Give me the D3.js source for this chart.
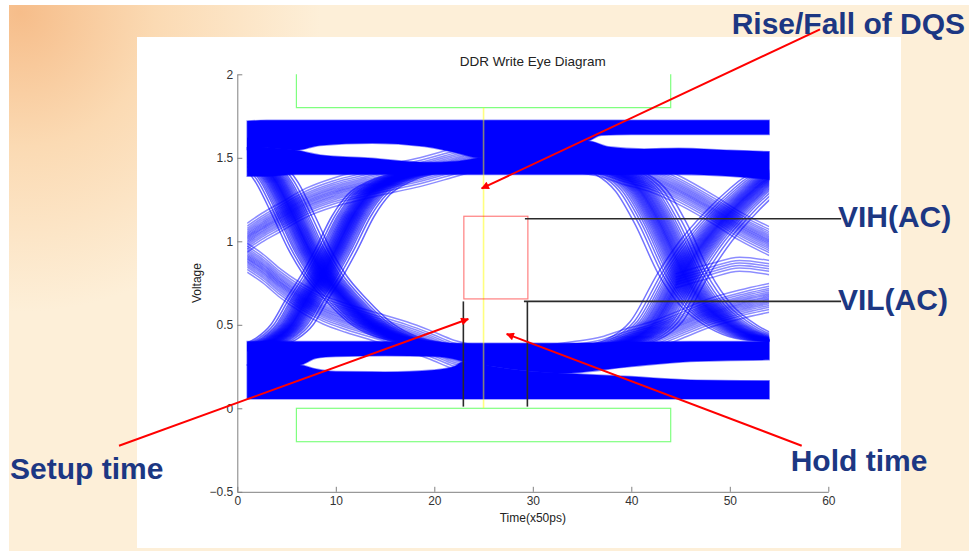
<!DOCTYPE html>
<html>
<head>
<meta charset="utf-8">
<script src="https://d3js.org/d3.v7.min.js"></script>
<style>
  body { margin: 0; background: #fff; }
  svg { display: block; font-family: Arial, "Liberation Sans", Helvetica, sans-serif; }
  .axis path, .axis line { stroke: #808080; }
  .axis text { fill: #333; font-size: 12px; font-family: Arial, "Liberation Sans", sans-serif; }
  .callout { fill: #1c3783; font-size: 30px; font-weight: bold; }
  .trace { fill: none; stroke: #0000ff; }
</style>
</head>
<body>
<svg id="chart" width="969" height="551"></svg>
<script>
// axis ticks
var xTicks = [0, 10, 20, 30, 40, 50, 60];
var yTicks = [-0.5, 0, 0.5, 1, 1.5, 2];

// solid bands where the traces pile up: [time, low, high]
var bandHighOuter = [[1, 1.55, 1.72], [3, 1.56, 1.725], [6, 1.545, 1.725], [8.4, 1.573, 1.725], [13.7, 1.587, 1.725],
  [19, 1.567, 1.725], [22.4, 1.527, 1.725], [24.5, 1.50, 1.725], [27, 1.50, 1.725], [30, 1.55, 1.725],
  [35.6, 1.60, 1.725], [37, 1.635, 1.725], [40, 1.64, 1.725], [54, 1.64, 1.725]];
var bandHighInner = [[1, 1.39, 1.56], [3, 1.39, 1.56], [6, 1.40, 1.545], [8.4, 1.40, 1.517], [13.7, 1.40, 1.497],
  [19, 1.40, 1.473], [22.4, 1.40, 1.48], [24.5, 1.40, 1.50], [27, 1.40, 1.52], [30, 1.40, 1.57],
  [35.6, 1.40, 1.60], [37.7, 1.40, 1.566], [41.3, 1.40, 1.553], [44.8, 1.40, 1.557], [50, 1.39, 1.545], [54, 1.37, 1.537]];
var bandLowInner = [[1, 0.26, 0.40], [6.3, 0.26, 0.40], [8, 0.30, 0.40], [10, 0.31, 0.40], [15, 0.315, 0.40],
  [20, 0.31, 0.395], [22, 0.295, 0.39], [23, 0.28, 0.39], [26, 0.25, 0.39], [30, 0.22, 0.39],
  [33, 0.21, 0.39], [40, 0.25, 0.395], [46, 0.28, 0.40], [54, 0.29, 0.40]];
var bandLowOuter = [[1, 0.055, 0.26], [6.3, 0.055, 0.26], [8, 0.055, 0.235], [10, 0.055, 0.22], [15, 0.055, 0.218],
  [20, 0.055, 0.23], [22, 0.055, 0.25], [23, 0.055, 0.28], [26, 0.055, 0.25], [30, 0.055, 0.22],
  [33, 0.055, 0.21], [40, 0.055, 0.19], [46, 0.055, 0.17], [54, 0.055, 0.165]];

// transition bundles, centre line [time, voltage]
var leftFall = [[0.5, 1.62], [1.5, 1.55], [2.5, 1.47], [4, 1.35], [5.7, 1.15], [7.3, 0.95], [8.7, 0.81],
  [11, 0.65], [13.5, 0.51], [16, 0.43], [19, 0.39], [22, 0.37], [26, 0.36]];
var leftRise = [[-2, 0.34], [1, 0.36], [2.5, 0.38], [4, 0.42], [5.5, 0.5], [7, 0.65], [8.7, 0.81], [10, 0.95],
  [11.7, 1.15], [13.3, 1.28], [15.5, 1.36], [19, 1.42], [22, 1.44], [26, 1.45]];
var leftSlowRise = [[1, 1.02], [2.5, 1.08], [4.3, 1.14], [7, 1.23], [9.7, 1.29], [13, 1.34], [16, 1.38],
  [19, 1.42], [22, 1.47], [25, 1.52]];
var leftSlowFall = [[1, 0.9], [2.5, 0.84], [4.3, 0.75], [6.5, 0.66], [8.7, 0.59], [11, 0.54], [13.8, 0.49],
  [17.2, 0.43], [19.5, 0.38], [22, 0.32], [25, 0.28]];
var rightFall = [[33, 1.47], [37, 1.44], [39, 1.40], [41, 1.30], [43, 1.10], [45.3, 0.81], [47.5, 0.62],
  [50, 0.50], [52.5, 0.43], [54, 0.41], [57, 0.40]];
var rightRise = [[33, 0.35], [37, 0.37], [40, 0.41], [42.5, 0.52], [45.3, 0.81], [47.5, 1.0], [50, 1.17],
  [52.5, 1.31], [54, 1.38], [57, 1.43]];
var rightSlowFall = [[30, 1.52], [34, 1.50], [37, 1.47], [39, 1.43], [42, 1.38], [45, 1.30], [48.3, 1.19], [51, 1.09], [54, 1.0]];
var rightSlowRise = [[30, 0.28], [34, 0.31], [37, 0.34], [39, 0.38], [42, 0.43], [45, 0.50], [48, 0.57], [51, 0.62], [54, 0.66]];
var rightMid = [[44.5, 0.76], [48, 0.82], [51, 0.86], [54, 0.84]];

// jitter of the individual traces inside a bundle
var spreadCore = [-2.1, -1.8, -1.55, -1.38, -1.22, -1.08, -0.97, -0.86, -0.77, -0.68, -0.6, -0.52, -0.45, -0.38, -0.31,
  -0.25, -0.19, -0.13, -0.07, -0.02, 0.03, 0.08, 0.14, 0.2, 0.26, 0.32, 0.39, 0.46, 0.53, 0.61, 0.69, 0.78, 0.87,
  0.98, 1.1, 1.24, 1.4, 1.58, 1.85, 2.2];
var spreadWide = [-2.6, -2.2, -1.9, -1.65, -1.45, -1.28, -1.13, -1.0, -0.88, -0.77, -0.67, -0.57, -0.48, -0.39, -0.3,
  -0.22, -0.14, -0.07, 0, 0.07, 0.15, 0.23, 0.31, 0.4, 0.49, 0.58, 0.68, 0.79, 0.9, 1.02, 1.15, 1.3, 1.47, 1.68,
  1.95, 2.3, 2.7];
var spreadThin = [-0.085, -0.068, -0.055, -0.044, -0.034, -0.025, -0.017, -0.009, -0.002, 0.005, 0.012, 0.02,
  0.028, 0.037, 0.047, 0.058, 0.071, 0.088];
var spreadFew = [-0.04, -0.02, -0.005, 0.01, 0.025, 0.045];

// guides and timing markers (data units)
var windowTime = [6, 44];
var windowHigh = [1.8, 2];
var windowLow = [-0.2, 0];
var dqsTime = 25;
var setupTime = 23;
var holdTime = 29.5;
var vih = 1.15, vil = 0.655;
var vihLine = 1.135, vilLine = 0.64;
var leaderEnd = 61.3;

var arrows = [
  { from: [59.16, 2.269], to: [24.81, 1.317] },
  { from: [-12.01, -0.224], to: [23.45, 0.535] },
  { from: [57.3, -0.224], to: [27.35, 0.445] }
];
var callouts = [
  { text: "Rise/Fall of DQS", at: [50.19, 2.24] },
  { text: "VIH(AC)", at: [60.98, 1.086] },
  { text: "VIL(AC)", at: [60.98, 0.589] },
  { text: "Setup time", at: [-23.07, -0.425] },
  { text: "Hold time", at: [56.18, -0.374] }
];

var svg = d3.select("#chart");
var x = d3.scaleLinear().domain([0, 60]).range([237.3, 828.3]);
var y = d3.scaleLinear().domain([-0.5, 2]).range([491.8, 74.3]);

var defs = svg.append("defs");
var grad = defs.append("radialGradient").attr("id", "slide")
  .attr("gradientUnits", "userSpaceOnUse").attr("cx", 20).attr("cy", 12).attr("r", 300);
grad.append("stop").attr("offset", 0).attr("stop-color", "#f6bd8a");
grad.append("stop").attr("offset", 0.45).attr("stop-color", "#fbdab3");
grad.append("stop").attr("offset", 1).attr("stop-color", "#fdefd8");
defs.append("clipPath").attr("id", "traceClip").append("rect")
  .attr("x", x(1)).attr("y", y(2)).attr("width", x(54) - x(1)).attr("height", y(-0.5) - y(2));
defs.append("marker").attr("id", "head").attr("viewBox", "0 0 10 10")
  .attr("refX", 9).attr("refY", 5).attr("markerWidth", 4.5).attr("markerHeight", 4)
  .attr("orient", "auto")
  .append("path").attr("d", "M0,0L10,5L0,10z").attr("fill", "#ff0000");

// slide background and figure panel
svg.append("rect").attr("width", 969).attr("height", 551).attr("fill", "#fff");
svg.append("rect").attr("x", 9).attr("y", 5).attr("width", 960).attr("height", 546).attr("fill", "url(#slide)");
svg.append("rect").attr("x", 137).attr("y", 37).attr("width", 764).attr("height", 511).attr("fill", "#fff");

// axes
svg.append("g").attr("class", "axis").attr("transform", "translate(0," + y(-0.5) + ")")
  .call(d3.axisBottom(x).tickValues(xTicks).tickSizeInner(-5).tickSizeOuter(0).tickPadding(5).tickFormat(d3.format("")));
svg.append("g").attr("class", "axis").attr("transform", "translate(" + x(0) + ",0)")
  .call(d3.axisLeft(y).tickValues(yTicks).tickSizeInner(-5).tickSizeOuter(0).tickPadding(4).tickFormat(d3.format("")));

svg.append("text").attr("x", (x(0) + x(60)) / 2).attr("y", 66).attr("text-anchor", "middle")
  .attr("font-size", 13.5).attr("fill", "#222").text("DDR Write Eye Diagram");
svg.append("text").attr("x", (x(0) + x(60)) / 2).attr("y", 522).attr("text-anchor", "middle")
  .attr("font-size", 12).attr("fill", "#222").text("Time(x50ps)");
svg.append("text").attr("transform", "translate(201," + y(0.75) + ") rotate(-90)").attr("text-anchor", "middle")
  .attr("font-size", 12).attr("fill", "#222").text("Voltage");

// green mask windows
var lineXY = d3.line().x(function (d) { return x(d[0]); }).y(function (d) { return y(d[1]); });
svg.append("path")
  .attr("d", lineXY([[windowTime[0], windowHigh[1]], [windowTime[0], windowHigh[0]], [windowTime[1], windowHigh[0]], [windowTime[1], windowHigh[1]]]))
  .attr("fill", "none").attr("stroke", "#00ff00").attr("stroke-opacity", 0.5).attr("stroke-width", 1.2);
svg.append("rect").attr("x", x(windowTime[0])).attr("y", y(windowLow[1]))
  .attr("width", x(windowTime[1]) - x(windowTime[0])).attr("height", y(windowLow[0]) - y(windowLow[1]))
  .attr("fill", "none").attr("stroke", "#00ff00").attr("stroke-opacity", 0.5).attr("stroke-width", 1.2);

// eye diagram: dense bands
var area = d3.area().x(function (d) { return x(d[0]); })
  .y0(function (d) { return y(d[1]); }).y1(function (d) { return y(d[2]); })
  .curve(d3.curveMonotoneX);
var eye = svg.append("g");
eye.selectAll("path.band").data([bandHighOuter, bandHighInner, bandLowInner, bandLowOuter]).join("path")
  .attr("class", "band").attr("d", area)
  .attr("fill", "#0000ff").attr("stroke", "#0000ff").attr("stroke-opacity", 0.45).attr("stroke-width", 1.5);

// eye diagram: individual traces of the transitions
var bundles = [
  { pts: leftFall, spread: spreadCore, along: "t", op: 0.6 },
  { pts: leftRise, spread: spreadCore, along: "t", op: 0.6 },
  { pts: leftSlowRise, spread: spreadThin, along: "v", op: 0.45 },
  { pts: leftSlowFall, spread: spreadThin, along: "v", op: 0.45 },
  { pts: rightFall, spread: spreadWide, along: "t", op: 0.55 },
  { pts: rightRise, spread: spreadWide, along: "t", op: 0.55 },
  { pts: rightSlowFall, spread: spreadThin, along: "v", op: 0.45 },
  { pts: rightSlowRise, spread: spreadThin, along: "v", op: 0.45 },
  { pts: rightMid, spread: spreadFew, along: "v", op: 0.45 }
];
var strands = [];
bundles.forEach(function (b) {
  b.spread.forEach(function (o) {
    strands.push({ op: b.op, pts: b.pts.map(function (p) {
      return b.along === "t" ? [p[0] + o, p[1]] : [p[0], p[1] + o];
    }) });
  });
});
var traceLine = d3.line().x(function (d) { return x(d[0]); }).y(function (d) { return y(d[1]); })
  .curve(d3.curveMonotoneX);
eye.append("g").attr("clip-path", "url(#traceClip)")
  .selectAll("path").data(strands).join("path")
  .attr("class", "trace").attr("d", function (d) { return traceLine(d.pts); })
  .attr("stroke-opacity", function (d) { return d.op; }).attr("stroke-width", 1.5);

// DQS edge and setup/hold box
svg.append("line").attr("x1", x(dqsTime)).attr("x2", x(dqsTime)).attr("y1", y(1.8)).attr("y2", y(0))
  .attr("stroke", "#ffff00").attr("stroke-opacity", 0.5).attr("stroke-width", 1.6);
svg.append("rect").attr("x", x(setupTime)).attr("y", y(vih))
  .attr("width", x(holdTime) - x(setupTime)).attr("height", y(vil) - y(vih))
  .attr("fill", "none").attr("stroke", "#ff0000").attr("stroke-opacity", 0.5).attr("stroke-width", 1.2);

var leaders = [
  [[holdTime - 0.3, vihLine], [leaderEnd, vihLine]],
  [[holdTime - 0.4, vilLine], [leaderEnd, vilLine]],
  [[setupTime - 0.05, vilLine], [setupTime - 0.05, 0.01]],
  [[holdTime - 0.05, vilLine], [holdTime - 0.05, 0.01]]
];
svg.selectAll("path.leader").data(leaders).join("path").attr("class", "leader")
  .attr("d", lineXY).attr("stroke", "#2a2a2a").attr("stroke-width", 1.6).attr("fill", "none");

svg.selectAll("line.arrow").data(arrows).join("line").attr("class", "arrow")
  .attr("x1", function (d) { return x(d.from[0]); }).attr("y1", function (d) { return y(d.from[1]); })
  .attr("x2", function (d) { return x(d.to[0]); }).attr("y2", function (d) { return y(d.to[1]); })
  .attr("stroke", "#ff0000").attr("stroke-width", 2).attr("marker-end", "url(#head)");

svg.selectAll("text.callout").data(callouts).join("text").attr("class", "callout")
  .attr("x", function (d) { return x(d.at[0]); }).attr("y", function (d) { return y(d.at[1]); })
  .text(function (d) { return d.text; });
</script>
</body>
</html>
